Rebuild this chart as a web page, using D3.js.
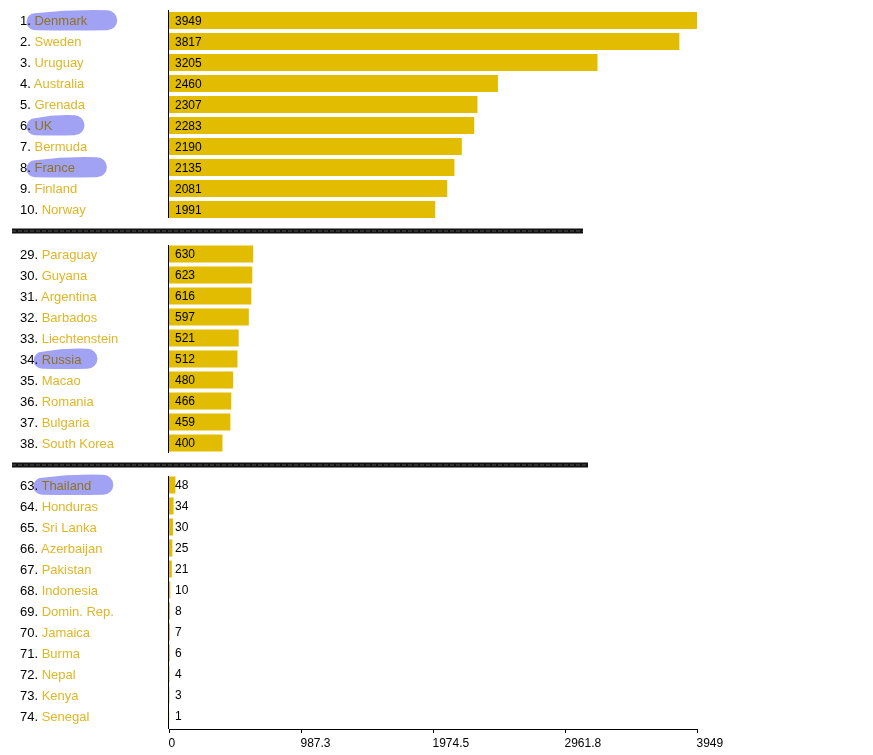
<!DOCTYPE html>
<html><head><meta charset="utf-8">
<script src="https://cdn.jsdelivr.net/npm/d3@7/dist/d3.min.js"></script>
<style>
body{margin:0;background:#fff;}
svg{font-family:"Liberation Sans",Arial,sans-serif;display:block;}
</style></head><body>
<svg id="c" width="873" height="755"></svg>
<script>
// ---- data ----
const topRanks = [1,2,3,4,5,6,7,8,9,10];
const topCountries = ["Denmark","Sweden","Uruguay","Australia","Grenada","UK","Bermuda","France","Finland","Norway"];
const topValues = [3949,3817,3205,2460,2307,2283,2190,2135,2081,1991];

const midRanks = [29,30,31,32,33,34,35,36,37,38];
const midCountries = ["Paraguay","Guyana","Argentina","Barbados","Liechtenstein","Russia","Macao","Romania","Bulgaria","South Korea"];
const midValues = [630,623,616,597,521,512,480,466,459,400];

const lowRanks = [63,64,65,66,67,68,69,70,71,72,73,74];
const lowCountries = ["Thailand","Honduras","Sri Lanka","Azerbaijan","Pakistan","Indonesia","Domin. Rep.","Jamaica","Burma","Nepal","Kenya","Senegal"];
const lowValues = [48,34,30,25,21,10,8,7,6,4,3,1];

const highlighted = ["Denmark","UK","France","Russia","Thailand"];
const tickValues = [0,987.3,1974.5,2961.8,3949];
const maxValue = 3949;

// ---- layout / style ----
const barColor = "#e1bc00";
const nameColor = "#dfb626";
const hlColor = "#a2a2f4";
const hlExtra = {Denmark:30, UK:32, France:32, Russia:16, Thailand:22};

const svg = d3.select("#c");
const x = d3.scaleLinear().domain([0, maxValue]).range([169, 697]);

const groups = [
  {ranks:topRanks, names:topCountries, values:topValues, y0:10, axisTop:10, axisBottom:218},
  {ranks:midRanks, names:midCountries, values:midValues, y0:243.5, axisTop:245, axisBottom:453},
  {ranks:lowRanks, names:lowCountries, values:lowValues, y0:474.5, axisTop:476, axisBottom:729}
];
const step = 21;

const hlLayer = svg.append("g");

groups.forEach(g => {
  const rows = g.names.map((n,i)=>({rank:g.ranks[i], name:n, value:g.values[i]}));
  const y = d3.scaleBand().domain(g.names).range([g.y0, g.y0 + step*g.names.length]).paddingInner(0.19).paddingOuter(0.095);
  const gg = svg.append("g");
  gg.selectAll("rect").data(rows).join("rect")
    .attr("x", x(0)).attr("y", d=>y(d.name))
    .attr("width", d=>x(d.value)-x(0)).attr("height", y.bandwidth())
    .attr("fill", barColor);
  gg.selectAll("text.val").data(rows).join("text")
    .attr("class","val")
    .attr("x", x(0)+6).attr("y", d=>y(d.name)+y.bandwidth()/2)
    .attr("dy","0.36em").attr("font-size",12).attr("fill","#000")
    .text(d=>d.value);
  const lab = gg.selectAll("text.lab").data(rows).join("text")
    .attr("class","lab")
    .attr("x", 20).attr("y", d=>y(d.name)+y.bandwidth()/2)
    .attr("dy","0.36em").attr("font-size",13);
  lab.append("tspan").attr("fill","#000").text(d=>d.rank+". ");
  lab.append("tspan").attr("class","nm").attr("fill",nameColor).text(d=>d.name);
  // vertical axis segment
  svg.append("line").attr("x1",168.5).attr("x2",168.5)
    .attr("y1",g.axisTop).attr("y2",g.axisBottom)
    .attr("stroke","#000").attr("stroke-width",1);
  // highlights (brush-stroke shape)
  lab.each(function(d){
    if(!highlighted.includes(d.name)) return;
    const nm = d3.select(this).select("tspan.nm").node();
    const start = nm.getStartPositionOfChar(0).x;
    const end = start + nm.getComputedTextLength();
    const cy = y(d.name)+y.bandwidth()/2;
    const rL = 8.5, rR = 10;
    const xl = start - 8 + rL, yl = cy + 1.2;
    const xr = end + hlExtra[d.name] - rR, yr = cy - 0.3;
    const p = `M${xl},${yl-rL} Q${(xl+xr)/2},${yr-rR-1} ${xr},${yr-rR}` +
      ` A${rR},${rR} 0 0 1 ${xr},${yr+rR}` +
      ` Q${(xl+xr)/2},${yl+rL+0.5} ${xl},${yl+rL}` +
      ` A${rL},${rL} 0 0 1 ${xl},${yl-rL} Z`;
    hlLayer.append("path").attr("d", p)
      .attr("fill",hlColor)
      .style("mix-blend-mode","multiply");
  });
});
hlLayer.raise();

// separators
[[231,12,583],[465,12,588]].forEach(([sy,sx0,sx1])=>{
  svg.append("line").attr("x1",sx0).attr("x2",sx1).attr("y1",sy).attr("y2",sy)
    .attr("stroke","#111").attr("stroke-width",5);
  svg.append("line").attr("x1",sx0).attr("x2",sx1).attr("y1",sy).attr("y2",sy)
    .attr("stroke","#555").attr("stroke-width",1.2).attr("stroke-dasharray","4,2");
});

// bottom axis
const ax = svg.append("g").attr("transform","translate(0,729)")
  .call(d3.axisBottom(x).tickValues(tickValues).tickSize(4).tickSizeOuter(0).tickFormat(d=>String(d)));
ax.select(".domain").attr("stroke","#000");
ax.selectAll(".tick line").attr("stroke","#000");
ax.selectAll(".tick text").attr("text-anchor","start").attr("x",-1).attr("dy","0.9em")
  .attr("font-size",12).attr("font-family","Liberation Sans, Arial, sans-serif").attr("fill","#000");
</script>
</body></html>
